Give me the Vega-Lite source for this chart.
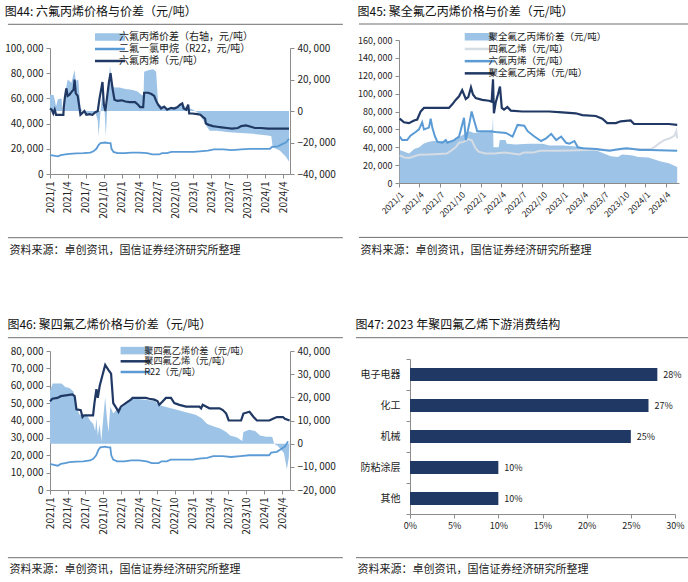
{
"$schema": "https://vega.github.io/schema/vega-lite/v6.json",
"background": "white",
"padding": {"top": 4, "left": 4, "right": 1, "bottom": 1},
"config": {
  "view": {"stroke": null},
  "font": "Noto Sans CJK SC",
  "axis": {"labelFont": "Noto Sans CJK SC", "labelFontSize": 10, "labelColor": "#222222", "domainColor": "#8c8c8c", "tickColor": "#8c8c8c", "grid": false, "tickSize": 4, "titleFont": "Noto Sans CJK SC", "titleFontSize": 11, "titleFontWeight": "normal", "titleColor": "#222222", "labelPadding": 3, "labelOverlap": false, "labelFlush": false},
  "legend": {"labelFont": "Noto Sans CJK SC", "labelFontSize": 10, "labelColor": "#222222"},
  "title": {"font": "Noto Sans CJK SC", "fontSize": 12, "fontWeight": "normal", "color": "#111111", "anchor": "start", "frame": "bounds"}
},
"datasets": {
  "r22": [
    {"d":"2021/01/01","v":15000},{"d":"2021/01/20","v":14500},{"d":"2021/02/10","v":14000},{"d":"2021/02/25","v":15000},{"d":"2021/03/20","v":15500},{"d":"2021/04/10","v":16000},{"d":"2021/05/15","v":16300},{"d":"2021/06/20","v":16500},{"d":"2021/07/25","v":17000},{"d":"2021/08/10","v":18000},{"d":"2021/08/25","v":20000},{"d":"2021/09/05","v":23000},{"d":"2021/09/15","v":24500},{"d":"2021/10/10","v":25000},{"d":"2021/10/25","v":24500},{"d":"2021/11/05","v":24500},{"d":"2021/11/10","v":20000},{"d":"2021/11/20","v":17500},{"d":"2021/12/10","v":16500},{"d":"2022/01/15","v":16500},{"d":"2022/02/20","v":17000},{"d":"2022/04/01","v":17000},{"d":"2022/05/10","v":16500},{"d":"2022/06/05","v":15500},{"d":"2022/07/10","v":15500},{"d":"2022/07/25","v":16500},{"d":"2022/08/20","v":16500},{"d":"2022/09/10","v":17500},{"d":"2022/11/01","v":17500},{"d":"2023/01/01","v":17500},{"d":"2023/02/01","v":18000},{"d":"2023/03/15","v":18500},{"d":"2023/04/15","v":19500},{"d":"2023/06/01","v":19500},{"d":"2023/07/15","v":19000},{"d":"2023/09/01","v":19500},{"d":"2023/10/15","v":20000},{"d":"2023/12/15","v":20000},{"d":"2024/01/25","v":20000},{"d":"2024/02/05","v":21500},{"d":"2024/03/05","v":22000},{"d":"2024/03/25","v":23500},{"d":"2024/04/15","v":25000},{"d":"2024/05/01","v":28000}
  ],
  "p1_hfp": [
    {"d":"2021/01/01","v":52000},{"d":"2021/01/10","v":51000},{"d":"2021/01/18","v":48000},{"d":"2021/01/25","v":51000},{"d":"2021/02/01","v":47000},{"d":"2021/02/20","v":47000},{"d":"2021/03/10","v":47000},{"d":"2021/03/12","v":53000},{"d":"2021/03/18","v":61000},{"d":"2021/03/25","v":68000},{"d":"2021/04/01","v":62000},{"d":"2021/04/10","v":63000},{"d":"2021/04/20","v":65000},{"d":"2021/05/01","v":67000},{"d":"2021/05/06","v":75000},{"d":"2021/05/12","v":64000},{"d":"2021/05/22","v":62000},{"d":"2021/06/05","v":47000},{"d":"2021/06/15","v":48500},{"d":"2021/06/25","v":50000},{"d":"2021/07/05","v":47000},{"d":"2021/07/20","v":47500},{"d":"2021/08/05","v":47000},{"d":"2021/08/20","v":49000},{"d":"2021/09/01","v":50000},{"d":"2021/09/10","v":60000},{"d":"2021/09/25","v":73000},{"d":"2021/10/02","v":55000},{"d":"2021/10/10","v":50000},{"d":"2021/10/20","v":63000},{"d":"2021/10/28","v":73000},{"d":"2021/11/05","v":80000},{"d":"2021/11/15","v":68000},{"d":"2021/11/25","v":59000},{"d":"2021/12/10","v":58000},{"d":"2022/01/01","v":58500},{"d":"2022/01/20","v":57500},{"d":"2022/02/10","v":57000},{"d":"2022/03/10","v":57000},{"d":"2022/03/25","v":55000},{"d":"2022/04/05","v":53000},{"d":"2022/04/20","v":53000},{"d":"2022/04/25","v":64500},{"d":"2022/05/15","v":64500},{"d":"2022/06/01","v":63500},{"d":"2022/06/15","v":62000},{"d":"2022/06/25","v":58000},{"d":"2022/07/05","v":55000},{"d":"2022/07/20","v":52000},{"d":"2022/08/05","v":53500},{"d":"2022/08/20","v":51000},{"d":"2022/09/10","v":52500},{"d":"2022/09/25","v":52000},{"d":"2022/10/10","v":53000},{"d":"2022/10/25","v":55000},{"d":"2022/11/05","v":56000},{"d":"2022/11/12","v":52000},{"d":"2022/11/25","v":51000},{"d":"2022/12/05","v":55000},{"d":"2022/12/10","v":48000},{"d":"2022/12/25","v":48000},{"d":"2023/01/20","v":47500},{"d":"2023/02/05","v":47000},{"d":"2023/02/20","v":45000},{"d":"2023/03/01","v":44000},{"d":"2023/03/05","v":40000},{"d":"2023/03/20","v":39000},{"d":"2023/04/10","v":38000},{"d":"2023/05/01","v":37500},{"d":"2023/05/25","v":37000},{"d":"2023/06/20","v":36500},{"d":"2023/07/15","v":36000},{"d":"2023/08/15","v":36500},{"d":"2023/09/01","v":38000},{"d":"2023/09/25","v":38500},{"d":"2023/10/20","v":37500},{"d":"2023/11/10","v":36500},{"d":"2023/12/10","v":36500},{"d":"2024/01/15","v":36000},{"d":"2024/03/01","v":36000},{"d":"2024/05/01","v":36000}
  ],
  "p1_spread": [
    {"d":"2021/01/01","v":10500},{"d":"2021/01/20","v":10000},{"d":"2021/02/01","v":3000},{"d":"2021/02/10","v":7500},{"d":"2021/03/01","v":8000},{"d":"2021/03/05","v":0},{"d":"2021/03/12","v":0},{"d":"2021/03/20","v":12000},{"d":"2021/04/01","v":20000},{"d":"2021/04/20","v":18000},{"d":"2021/05/06","v":26000},{"d":"2021/05/12","v":19000},{"d":"2021/05/25","v":20000},{"d":"2021/06/05","v":2000},{"d":"2021/06/20","v":-1000},{"d":"2021/07/20","v":-2000},{"d":"2021/08/20","v":-1000},{"d":"2021/09/01","v":-6000},{"d":"2021/09/05","v":-16000},{"d":"2021/09/15","v":0},{"d":"2021/09/25","v":12000},{"d":"2021/10/05","v":2000},{"d":"2021/10/12","v":-16000},{"d":"2021/10/20","v":5000},{"d":"2021/11/02","v":28600},{"d":"2021/11/15","v":16000},{"d":"2021/11/25","v":15000},{"d":"2021/12/20","v":15000},{"d":"2022/01/20","v":14000},{"d":"2022/02/20","v":13500},{"d":"2022/03/20","v":12500},{"d":"2022/04/15","v":10000},{"d":"2022/04/22","v":10000},{"d":"2022/04/25","v":25000},{"d":"2022/05/20","v":26000},{"d":"2022/06/10","v":26500},{"d":"2022/06/25","v":25000},{"d":"2022/07/05","v":5000},{"d":"2022/07/25","v":3000},{"d":"2022/08/20","v":2000},{"d":"2022/09/20","v":2500},{"d":"2022/10/20","v":3000},{"d":"2022/11/05","v":5000},{"d":"2022/11/25","v":2000},{"d":"2022/12/20","v":1500},{"d":"2023/01/10","v":0},{"d":"2023/02/01","v":-2000},{"d":"2023/02/20","v":-6000},{"d":"2023/03/10","v":-10000},{"d":"2023/03/25","v":-12500},{"d":"2023/05/01","v":-12500},{"d":"2023/07/01","v":-13500},{"d":"2023/09/01","v":-14000},{"d":"2023/11/01","v":-14500},{"d":"2024/01/15","v":-15500},{"d":"2024/02/01","v":-16000},{"d":"2024/02/08","v":-23000},{"d":"2024/03/15","v":-25000},{"d":"2024/04/15","v":-29000},{"d":"2024/05/01","v":-32000}
  ],
  "p2_fep": [
    {"d":"2021/01/04","v":72000},{"d":"2021/01/23","v":68000},{"d":"2021/02/14","v":67000},{"d":"2021/03/09","v":70000},{"d":"2021/03/23","v":71000},{"d":"2021/04/07","v":80000},{"d":"2021/04/22","v":84000},{"d":"2021/08/11","v":84000},{"d":"2021/08/26","v":88000},{"d":"2021/09/10","v":93000},{"d":"2021/09/25","v":97000},{"d":"2021/10/09","v":104000},{"d":"2021/10/25","v":94000},{"d":"2021/11/05","v":96000},{"d":"2021/11/17","v":107000},{"d":"2021/11/26","v":99000},{"d":"2021/12/08","v":95000},{"d":"2022/01/06","v":93000},{"d":"2022/02/05","v":92000},{"d":"2022/02/17","v":91000},{"d":"2022/02/23","v":116000},{"d":"2022/02/27","v":78000},{"d":"2022/03/07","v":90000},{"d":"2022/03/17","v":99000},{"d":"2022/03/26","v":108000},{"d":"2022/04/03","v":84000},{"d":"2022/04/13","v":82000},{"d":"2022/04/28","v":85000},{"d":"2022/05/13","v":81000},{"d":"2022/07/03","v":80000},{"d":"2022/10/30","v":80000},{"d":"2022/12/28","v":79000},{"d":"2023/02/26","v":78000},{"d":"2023/03/27","v":76000},{"d":"2023/05/26","v":75000},{"d":"2023/06/24","v":72000},{"d":"2023/07/16","v":67000},{"d":"2023/08/23","v":67000},{"d":"2023/09/14","v":69000},{"d":"2023/10/28","v":70000},{"d":"2023/11/12","v":66000},{"d":"2024/01/18","v":66000},{"d":"2024/04/15","v":66000},{"d":"2024/05/22","v":65000}
  ],
  "p2_hfp": [
    {"d":"2021/01/04","v":52000},{"d":"2021/01/15","v":48000},{"d":"2021/02/06","v":48000},{"d":"2021/02/21","v":53000},{"d":"2021/03/16","v":57000},{"d":"2021/03/31","v":60000},{"d":"2021/04/14","v":68000},{"d":"2021/04/22","v":60000},{"d":"2021/05/14","v":62000},{"d":"2021/05/22","v":72000},{"d":"2021/05/29","v":62000},{"d":"2021/06/10","v":52000},{"d":"2021/06/21","v":46000},{"d":"2021/07/13","v":45000},{"d":"2021/07/28","v":48000},{"d":"2021/08/04","v":45000},{"d":"2021/09/03","v":48000},{"d":"2021/09/25","v":52000},{"d":"2021/10/17","v":73000},{"d":"2021/10/25","v":48000},{"d":"2021/11/11","v":68000},{"d":"2021/11/20","v":80000},{"d":"2021/12/01","v":70000},{"d":"2021/12/15","v":58000},{"d":"2022/02/05","v":58000},{"d":"2022/03/07","v":57000},{"d":"2022/04/21","v":56000},{"d":"2022/05/21","v":52000},{"d":"2022/06/12","v":65000},{"d":"2022/07/12","v":64000},{"d":"2022/07/27","v":58000},{"d":"2022/08/26","v":52000},{"d":"2022/09/25","v":47000},{"d":"2022/10/17","v":50000},{"d":"2022/11/09","v":55000},{"d":"2022/12/01","v":48000},{"d":"2022/12/23","v":52000},{"d":"2023/01/14","v":45000},{"d":"2023/01/29","v":44000},{"d":"2023/02/20","v":47000},{"d":"2023/03/07","v":40000},{"d":"2023/03/29","v":39000},{"d":"2023/05/28","v":38000},{"d":"2023/06/27","v":37000},{"d":"2023/07/27","v":36000},{"d":"2023/09/10","v":38000},{"d":"2023/10/09","v":39000},{"d":"2023/11/08","v":38000},{"d":"2023/12/08","v":37000},{"d":"2024/01/21","v":37000},{"d":"2024/05/22","v":36000}
  ],
  "p2_tfe": [
    {"d":"2021/01/04","v":31000},{"d":"2021/01/25","v":28500},{"d":"2021/02/15","v":28000},{"d":"2021/03/10","v":30000},{"d":"2021/04/01","v":31500},{"d":"2021/05/15","v":32000},{"d":"2021/07/01","v":32500},{"d":"2021/08/01","v":33000},{"d":"2021/08/20","v":36000},{"d":"2021/09/10","v":40000},{"d":"2021/09/25","v":45000},{"d":"2021/10/15","v":46000},{"d":"2021/11/05","v":49000},{"d":"2021/11/20","v":48000},{"d":"2021/12/05","v":40000},{"d":"2021/12/20","v":35000},{"d":"2022/01/20","v":33000},{"d":"2022/03/01","v":33000},{"d":"2022/04/15","v":34000},{"d":"2022/05/20","v":33000},{"d":"2022/06/20","v":32000},{"d":"2022/07/10","v":34000},{"d":"2022/08/20","v":34000},{"d":"2022/09/20","v":36000},{"d":"2022/12/01","v":36000},{"d":"2023/02/01","v":36500},{"d":"2023/04/15","v":37000},{"d":"2023/06/15","v":37500},{"d":"2023/08/01","v":37000},{"d":"2023/10/01","v":38000},{"d":"2023/12/01","v":38000},{"d":"2024/01/25","v":38000},{"d":"2024/02/10","v":40000},{"d":"2024/03/01","v":44000},{"d":"2024/03/25","v":48000},{"d":"2024/04/20","v":50000},{"d":"2024/05/10","v":53000},{"d":"2024/05/18","v":58000},{"d":"2024/05/22","v":50000}
  ],
  "p2_spread": [
    {"d":"2021/01/04","v":37000},{"d":"2021/01/25","v":35000},{"d":"2021/02/15","v":33000},{"d":"2021/03/10","v":38000},{"d":"2021/04/01","v":40000},{"d":"2021/04/20","v":44000},{"d":"2021/05/10","v":46000},{"d":"2021/06/01","v":47000},{"d":"2021/08/15","v":47000},{"d":"2021/09/10","v":48000},{"d":"2021/10/01","v":52000},{"d":"2021/10/20","v":55000},{"d":"2021/11/10","v":58000},{"d":"2021/12/01","v":56000},{"d":"2022/01/01","v":57000},{"d":"2022/02/01","v":57000},{"d":"2022/02/20","v":60000},{"d":"2022/02/23","v":75000},{"d":"2022/02/25","v":40000},{"d":"2022/03/20","v":40000},{"d":"2022/03/25","v":48000},{"d":"2022/04/20","v":48000},{"d":"2022/04/25","v":44000},{"d":"2022/06/01","v":43000},{"d":"2022/08/01","v":44000},{"d":"2022/10/01","v":44000},{"d":"2022/11/01","v":42000},{"d":"2023/01/01","v":42000},{"d":"2023/02/15","v":41000},{"d":"2023/04/01","v":40000},{"d":"2023/05/01","v":38000},{"d":"2023/06/01","v":36000},{"d":"2023/07/01","v":33000},{"d":"2023/08/01","v":30000},{"d":"2023/09/01","v":29000},{"d":"2023/09/20","v":32000},{"d":"2023/11/01","v":31000},{"d":"2023/12/01","v":29000},{"d":"2024/01/15","v":28500},{"d":"2024/02/15","v":26000},{"d":"2024/03/10","v":24000},{"d":"2024/04/15","v":22000},{"d":"2024/05/22","v":18000}
  ],
  "p3_ptfe": [
    {"d":"2021/01/01","v":51000},{"d":"2021/01/13","v":52500},{"d":"2021/02/08","v":53000},{"d":"2021/02/25","v":54000},{"d":"2021/04/25","v":55000},{"d":"2021/05/07","v":54000},{"d":"2021/05/16","v":46500},{"d":"2021/06/07","v":46000},{"d":"2021/06/16","v":42000},{"d":"2021/06/24","v":43000},{"d":"2021/07/20","v":43000},{"d":"2021/08/09","v":43000},{"d":"2021/08/16","v":50000},{"d":"2021/08/26","v":58000},{"d":"2021/09/02","v":53000},{"d":"2021/09/12","v":60000},{"d":"2021/09/26","v":66000},{"d":"2021/10/10","v":72000},{"d":"2021/10/27","v":69000},{"d":"2021/11/09","v":67000},{"d":"2021/11/20","v":50000},{"d":"2021/12/07","v":47000},{"d":"2021/12/17","v":45000},{"d":"2021/12/29","v":48000},{"d":"2022/01/23","v":50000},{"d":"2022/02/18","v":52000},{"d":"2022/02/27","v":53000},{"d":"2022/05/06","v":53000},{"d":"2022/05/23","v":52500},{"d":"2022/06/18","v":52000},{"d":"2022/07/05","v":51000},{"d":"2022/07/13","v":49000},{"d":"2022/07/30","v":51000},{"d":"2022/08/16","v":53000},{"d":"2022/09/11","v":53000},{"d":"2022/09/28","v":50000},{"d":"2022/10/24","v":49000},{"d":"2022/11/27","v":48000},{"d":"2023/02/03","v":48000},{"d":"2023/02/12","v":47000},{"d":"2023/02/20","v":49000},{"d":"2023/03/09","v":48000},{"d":"2023/03/26","v":47000},{"d":"2023/05/17","v":47000},{"d":"2023/06/03","v":46000},{"d":"2023/06/20","v":44000},{"d":"2023/07/03","v":40000},{"d":"2023/09/04","v":40000},{"d":"2023/09/16","v":44000},{"d":"2023/10/17","v":45000},{"d":"2023/11/07","v":42000},{"d":"2023/11/24","v":40000},{"d":"2024/01/27","v":40000},{"d":"2024/02/14","v":41000},{"d":"2024/03/05","v":42000},{"d":"2024/04/05","v":42000},{"d":"2024/04/15","v":41000},{"d":"2024/05/09","v":40000}
  ],
  "p3_spread": [
    {"d":"2021/01/01","v":23000},{"d":"2021/01/15","v":26000},{"d":"2021/03/01","v":26000},{"d":"2021/03/20","v":24500},{"d":"2021/04/10","v":24000},{"d":"2021/05/01","v":22500},{"d":"2021/05/15","v":16000},{"d":"2021/06/01","v":12500},{"d":"2021/07/10","v":12000},{"d":"2021/07/25","v":10000},{"d":"2021/08/10","v":8500},{"d":"2021/08/20","v":5500},{"d":"2021/08/26","v":11000},{"d":"2021/09/02","v":3500},{"d":"2021/09/12","v":8500},{"d":"2021/09/20","v":1000},{"d":"2021/10/01","v":12000},{"d":"2021/10/10","v":20000},{"d":"2021/10/20","v":10000},{"d":"2021/10/27","v":5000},{"d":"2021/11/05","v":16000},{"d":"2021/11/20","v":13000},{"d":"2021/12/10","v":15000},{"d":"2022/01/10","v":16000},{"d":"2022/02/01","v":18500},{"d":"2022/03/01","v":19500},{"d":"2022/05/01","v":19000},{"d":"2022/06/15","v":18500},{"d":"2022/07/20","v":16500},{"d":"2022/09/01","v":15500},{"d":"2022/10/15","v":14500},{"d":"2022/12/01","v":13500},{"d":"2023/01/15","v":12500},{"d":"2023/02/15","v":11000},{"d":"2023/03/15","v":8500},{"d":"2023/04/15","v":7500},{"d":"2023/05/20","v":6500},{"d":"2023/06/20","v":5000},{"d":"2023/07/10","v":3500},{"d":"2023/08/15","v":2700},{"d":"2023/09/10","v":1200},{"d":"2023/09/16","v":5000},{"d":"2023/10/15","v":6000},{"d":"2023/11/15","v":5500},{"d":"2023/12/10","v":3500},{"d":"2024/01/10","v":3000},{"d":"2024/02/10","v":3000},{"d":"2024/02/20","v":0},{"d":"2024/03/10","v":-1000},{"d":"2024/03/25","v":-2500},{"d":"2024/04/10","v":-4000},{"d":"2024/04/25","v":-11000},{"d":"2024/05/05","v":-6000},{"d":"2024/05/09","v":2000}
  ],
  "p4": [
    {"c":"电子电器","v":0.28},{"c":"化工","v":0.27},{"c":"机械","v":0.25},{"c":"防粘涂层","v":0.10},{"c":"其他","v":0.10}
  ]
},
"spacing": 63,
"resolve": {"scale": {"color": "independent"}, "legend": {"color": "independent"}},
"vconcat": [
{
  "spacing": 13,
  "resolve": {"scale": {"color": "independent"}, "legend": {"color": "independent"}},
  "hconcat": [
  {
    "spacing": 0,
    "resolve": {"scale": {"color": "independent"}, "legend": {"color": "independent"}},
    "vconcat": [
      {"width": 10, "height": 1, "data": {"values": [{}]}, "mark": {"type": "rule", "opacity": 0}, "encoding": {"y": {"datum": 0, "type": "quantitative", "scale": {"domain": [0, 1]}, "axis": null}}},
      {
        "width": 240, "height": 126,
        "title": {"text": "图44: 六氟丙烯价格与价差（元/吨）", "offset": 5},
        "resolve": {"scale": {"y": "independent"}},
        "layer": [
          {
            "data": {"name": "p1_spread"},
            "mark": {"type": "area"},
            "encoding": {
              "x": {"field": "d", "type": "temporal", "scale": {"domain": [{"year":2021,"month":1,"date":1},{"year":2024,"month":5,"date":6}], "nice": false},
                    "axis": {"values": [{"year":2021,"month":1,"date":1},{"year":2021,"month":4,"date":1},{"year":2021,"month":7,"date":1},{"year":2021,"month":10,"date":1},{"year":2022,"month":1,"date":1},{"year":2022,"month":4,"date":1},{"year":2022,"month":7,"date":1},{"year":2022,"month":10,"date":1},{"year":2023,"month":1,"date":1},{"year":2023,"month":4,"date":1},{"year":2023,"month":7,"date":1},{"year":2023,"month":10,"date":1},{"year":2024,"month":1,"date":1},{"year":2024,"month":4,"date":1}],
                             "tickCount": 30, "format": "%Y/%-m", "labelAngle": -90, "labelOverlap": false, "labelFlush": false, "title": "资料来源：卓创资讯，国信证券经济研究所整理", "titleX": -41, "titleY": 76, "titleAlign": "left", "titleBaseline": "middle"}},
              "y": {"field": "v", "type": "quantitative", "scale": {"domain": [-40000, 40000], "nice": false},
                    "axis": {"orient": "right", "values": [-40000,-20000,0,20000,40000], "tickCount": 30, "labelOverlap": false, "labelFlush": false, "title": null, "labelExpr": "replace(format(datum.value, ','), ',', ', ')"}},
              "color": {"datum": "六氟丙烯价差（右轴，元/吨）", "type": "nominal",
                        "scale": {"domain": ["六氟丙烯价差（右轴，元/吨）", "二氟一氯甲烷（R22，元/吨）", "六氟丙烯（元/吨）"], "range": ["#9DC3E6", "#5B9BD5", "#203864"]},
                        "legend": {"title": null, "orient": "none", "legendX": 55, "legendY": -16, "symbolSize": 900, "rowPadding": 2, "labelOffset": 4, "labelFontSize": 10,
                                   "symbolType": {"expr": "datum.value == '六氟丙烯价差（右轴，元/吨）' ? 'M-1,-0.25H1V0.25H-1Z' : 'stroke'"},
                                   "symbolStrokeWidth": {"expr": "datum.value == '六氟丙烯价差（右轴，元/吨）' ? 0 : 2.5"}}}
            }
          },
          {
            "layer": [
              {
                "data": {"name": "r22"},
                "mark": {"type": "line", "strokeWidth": 1.8},
                "encoding": {
                  "x": {"field": "d", "type": "temporal", "scale": {"domain": [{"year":2021,"month":1,"date":1},{"year":2024,"month":5,"date":6}], "nice": false}},
                  "y": {"field": "v", "type": "quantitative", "scale": {"domain": [0, 100000], "nice": false},
                        "axis": {"orient": "left", "values": [0,20000,40000,60000,80000,100000], "tickCount": 30, "labelOverlap": false, "labelFlush": false, "title": null, "labelExpr": "replace(format(datum.value, ','), ',', ', ')"}},
                  "color": {"datum": "二氟一氯甲烷（R22，元/吨）", "type": "nominal"}
                }
              },
              {
                "data": {"name": "p1_hfp"},
                "mark": {"type": "line", "strokeWidth": 2.2},
                "encoding": {
                  "x": {"field": "d", "type": "temporal", "scale": {"domain": [{"year":2021,"month":1,"date":1},{"year":2024,"month":5,"date":6}], "nice": false}},
                  "y": {"field": "v", "type": "quantitative", "scale": {"domain": [0, 100000], "nice": false}},
                  "color": {"datum": "六氟丙烯（元/吨）", "type": "nominal"}
                }
              },
              {
                "data": {"values": [{"p": "header"}, {"p": "footer"}]},
                "transform": [{"calculate": "datum.p == 'header' ? 118810 : -50556", "as": "yv"}],
                "mark": {"type": "rule", "color": "#6f6f6f", "strokeWidth": 1},
                "encoding": {
                  "x": {"datum": {"year":2020,"month":6,"date":1}, "type": "temporal", "scale": {"domain": [{"year":2021,"month":1,"date":1},{"year":2024,"month":5,"date":6}], "nice": false}},
                  "x2": {"datum": {"year":2025,"month":1,"date":30}},
                  "y": {"field": "yv", "type": "quantitative", "scale": {"domain": [0, 100000], "nice": false}}
                }
              }
            ]
          }
        ]
      }
    ]
  },
  {
    "spacing": 0,
    "resolve": {"scale": {"color": "independent"}, "legend": {"color": "independent"}},
    "vconcat": [
      {"width": 10, "height": 1, "data": {"values": [{}]}, "mark": {"type": "rule", "opacity": 0}, "encoding": {"y": {"datum": 0, "type": "quantitative", "scale": {"domain": [0, 1]}, "axis": null}}},
      {
        "width": 280, "height": 143,
        "title": {"text": "图45: 聚全氟乙丙烯价格与价差（元/吨）", "offset": 5},
        "layer": [
          {
            "data": {"name": "p2_spread"},
            "mark": {"type": "area"},
            "encoding": {
              "x": {"field": "d", "type": "temporal", "scale": {"domain": [{"year":2021,"month":1,"date":1},{"year":2024,"month":5,"date":30}], "nice": false},
                    "axis": {"values": [{"year":2021,"month":1,"date":1},{"year":2021,"month":4,"date":1},{"year":2021,"month":7,"date":1},{"year":2021,"month":10,"date":1},{"year":2022,"month":1,"date":1},{"year":2022,"month":4,"date":1},{"year":2022,"month":7,"date":1},{"year":2022,"month":10,"date":1},{"year":2023,"month":1,"date":1},{"year":2023,"month":4,"date":1},{"year":2023,"month":7,"date":1},{"year":2023,"month":10,"date":1},{"year":2024,"month":1,"date":1},{"year":2024,"month":4,"date":1}],
                             "tickCount": 30, "format": "%Y/%-m", "labelAngle": -45, "labelFontSize": 8.5, "labelOverlap": false, "labelFlush": false, "title": "资料来源：卓创资讯，国信证券经济研究所整理", "titleX": -39, "titleY": 67, "titleAlign": "left", "titleBaseline": "middle"}},
              "y": {"field": "v", "type": "quantitative", "scale": {"domain": [0, 160000], "nice": false},
                    "axis": {"values": [0,20000,40000,60000,80000,100000,120000,140000,160000], "tickCount": 30, "labelOverlap": false, "labelFlush": false, "title": null, "labelFontSize": 9, "labelExpr": "replace(format(datum.value, ','), ',', ', ')"}},
              "color": {"datum": "聚全氟乙丙烯价差（元/吨）", "type": "nominal",
                        "scale": {"domain": ["聚全氟乙丙烯价差（元/吨）", "四氟乙烯（元/吨）", "六氟丙烯（元/吨）", "聚全氟乙丙烯（元/吨）"], "range": ["#9DC3E6", "#D6DCE4", "#5B9BD5", "#203864"]},
                        "legend": {"title": null, "orient": "none", "legendX": 76, "legendY": -8, "symbolSize": 900, "rowPadding": 1.2, "labelOffset": 4, "labelFontSize": 9.5,
                                   "symbolType": {"expr": "datum.value == '聚全氟乙丙烯价差（元/吨）' ? 'M-1,-0.25H1V0.25H-1Z' : 'stroke'"},
                                   "symbolStrokeWidth": {"expr": "datum.value == '聚全氟乙丙烯价差（元/吨）' ? 0 : 2.5"}}}
            }
          },
          {
            "data": {"name": "p2_tfe"},
            "mark": {"type": "line", "strokeWidth": 2},
            "encoding": {
              "x": {"field": "d", "type": "temporal"},
              "y": {"field": "v", "type": "quantitative"},
              "color": {"datum": "四氟乙烯（元/吨）", "type": "nominal"}
            }
          },
          {
            "data": {"name": "p2_hfp"},
            "mark": {"type": "line", "strokeWidth": 2},
            "encoding": {
              "x": {"field": "d", "type": "temporal"},
              "y": {"field": "v", "type": "quantitative"},
              "color": {"datum": "六氟丙烯（元/吨）", "type": "nominal"}
            }
          },
          {
            "data": {"name": "p2_fep"},
            "mark": {"type": "line", "strokeWidth": 2.2},
            "encoding": {
              "x": {"field": "d", "type": "temporal"},
              "y": {"field": "v", "type": "quantitative"},
              "color": {"datum": "聚全氟乙丙烯（元/吨）", "type": "nominal"}
            }
          },
          {
            "data": {"values": [{"p": "header"}, {"p": "footer"}]},
            "transform": [{"calculate": "datum.p == 'header' ? 177902 : -60868", "as": "yv"}],
            "mark": {"type": "rule", "color": "#6f6f6f", "strokeWidth": 1},
            "encoding": {
              "x": {"datum": {"year":2020,"month":7,"date":7}, "type": "temporal"},
              "x2": {"datum": {"year":2024,"month":7,"date":27}},
              "y": {"field": "yv", "type": "quantitative"}
            }
          }
        ]
      }
    ]
  }
  ]
},
{
  "spacing": 11,
  "resolve": {"scale": {"color": "independent"}, "legend": {"color": "independent"}},
  "hconcat": [
  {
    "spacing": 0,
    "resolve": {"scale": {"color": "independent"}, "legend": {"color": "independent"}},
    "vconcat": [
      {"width": 10, "height": 1, "data": {"values": [{}]}, "mark": {"type": "rule", "opacity": 0}, "encoding": {"y": {"datum": 0, "type": "quantitative", "scale": {"domain": [0, 1]}, "axis": null}}},
      {
        "width": 240, "height": 139,
        "title": {"text": "图46: 聚四氟乙烯价格与价差（元/吨）", "offset": 5},
        "resolve": {"scale": {"y": "independent"}},
        "layer": [
          {
            "data": {"name": "p3_spread"},
            "mark": {"type": "area"},
            "encoding": {
              "x": {"field": "d", "type": "temporal", "scale": {"domain": [{"year":2021,"month":1,"date":1},{"year":2024,"month":5,"date":11}], "nice": false},
                    "axis": {"values": [{"year":2021,"month":1,"date":1},{"year":2021,"month":4,"date":1},{"year":2021,"month":7,"date":1},{"year":2021,"month":10,"date":1},{"year":2022,"month":1,"date":1},{"year":2022,"month":4,"date":1},{"year":2022,"month":7,"date":1},{"year":2022,"month":10,"date":1},{"year":2023,"month":1,"date":1},{"year":2023,"month":4,"date":1},{"year":2023,"month":7,"date":1},{"year":2023,"month":10,"date":1},{"year":2024,"month":1,"date":1},{"year":2024,"month":4,"date":1}],
                             "tickCount": 30, "format": "%Y/%-m", "labelAngle": -90, "labelOverlap": false, "labelFlush": false, "title": "资料来源：卓创资讯，国信证券经济研究所整理", "titleX": -41, "titleY": 79, "titleAlign": "left", "titleBaseline": "middle"}},
              "y": {"field": "v", "type": "quantitative", "scale": {"domain": [-20000, 40000], "nice": false},
                    "axis": {"orient": "right", "values": [-20000,-10000,0,10000,20000,30000,40000], "tickCount": 30, "labelOverlap": false, "labelFlush": false, "title": null, "labelExpr": "replace(format(datum.value, ','), ',', ', ')"}},
              "color": {"datum": "聚四氟乙烯价差（元/吨）", "type": "nominal",
                        "scale": {"domain": ["聚四氟乙烯价差（元/吨）", "聚四氟乙烯（元/吨）", "R22（元/吨）"], "range": ["#9DC3E6", "#203864", "#5B9BD5"]},
                        "legend": {"title": null, "orient": "none", "legendX": 81, "legendY": -5, "symbolSize": 900, "rowPadding": -0.3, "labelOffset": 4, "labelFontSize": 9.2,
                                   "symbolType": {"expr": "datum.value == '聚四氟乙烯价差（元/吨）' ? 'M-1,-0.25H1V0.25H-1Z' : 'stroke'"},
                                   "symbolStrokeWidth": {"expr": "datum.value == '聚四氟乙烯价差（元/吨）' ? 0 : 2.5"}}}
            }
          },
          {
            "layer": [
              {
                "data": {"name": "r22"},
                "mark": {"type": "line", "strokeWidth": 1.8},
                "encoding": {
                  "x": {"field": "d", "type": "temporal", "scale": {"domain": [{"year":2021,"month":1,"date":1},{"year":2024,"month":5,"date":11}], "nice": false}},
                  "y": {"field": "v", "type": "quantitative", "scale": {"domain": [0, 80000], "nice": false},
                        "axis": {"orient": "left", "values": [0,10000,20000,30000,40000,50000,60000,70000,80000], "tickCount": 30, "labelOverlap": false, "labelFlush": false, "title": null, "labelExpr": "replace(format(datum.value, ','), ',', ', ')"}},
                  "color": {"datum": "R22（元/吨）", "type": "nominal"}
                }
              },
              {
                "data": {"name": "p3_ptfe"},
                "mark": {"type": "line", "strokeWidth": 2.2},
                "encoding": {
                  "x": {"field": "d", "type": "temporal", "scale": {"domain": [{"year":2021,"month":1,"date":1},{"year":2024,"month":5,"date":11}], "nice": false}},
                  "y": {"field": "v", "type": "quantitative", "scale": {"domain": [0, 80000], "nice": false}},
                  "color": {"datum": "聚四氟乙烯（元/吨）", "type": "nominal"}
                }
              },
              {
                "data": {"values": [{"p": "header"}, {"p": "footer"}]},
                "transform": [{"calculate": "datum.p == 'header' ? 87654 : -38960", "as": "yv"}],
                "mark": {"type": "rule", "color": "#6f6f6f", "strokeWidth": 1},
                "encoding": {
                  "x": {"datum": {"year":2020,"month":5,"date":31}, "type": "temporal", "scale": {"domain": [{"year":2021,"month":1,"date":1},{"year":2024,"month":5,"date":11}], "nice": false}},
                  "x2": {"datum": {"year":2025,"month":2,"date":5}},
                  "y": {"field": "yv", "type": "quantitative", "scale": {"domain": [0, 80000], "nice": false}}
                }
              }
            ]
          }
        ]
      }
    ]
  },
  {
    "spacing": 0,
    "resolve": {"scale": {"color": "independent"}, "legend": {"color": "independent"}},
    "vconcat": [
      {"width": 10, "height": 1, "data": {"values": [{}]}, "mark": {"type": "rule", "opacity": 0}, "encoding": {"y": {"datum": 0, "type": "quantitative", "scale": {"domain": [0, 1]}, "axis": null}}},
      {
        "width": 265, "height": 155,
        "title": {"text": "图47: 2023 年聚四氟乙烯下游消费结构", "offset": 5},
        "resolve": {"scale": {"y": "independent"}},
        "layer": [
          {
            "layer": [
              {
                "data": {"name": "p4"},
                "mark": {"type": "bar", "height": {"band": 0.42}, "color": "#203864"},
                "encoding": {
                  "x": {"field": "v", "type": "quantitative", "scale": {"domain": [0, 0.3], "nice": false},
                        "axis": {"values": [0,0.05,0.1,0.15,0.2,0.25,0.3], "tickCount": 30, "format": ".0%", "labelFontSize": 9, "labelOverlap": false, "labelFlush": false, "title": "资料来源：卓创资讯，国信证券经济研究所整理", "titleX": -53, "titleY": 55, "titleAlign": "left", "titleBaseline": "middle"}},
                  "y": {"field": "c", "type": "nominal", "sort": null, "scale": {"paddingInner": 0, "paddingOuter": 0},
                        "axis": {"title": null, "tickBand": "extent", "labelPadding": 6, "labelFontSize": 10}}
                }
              },
              {
                "data": {"name": "p4"},
                "mark": {"type": "text", "align": "left", "dx": 6, "fontSize": 9, "color": "#222222"},
                "encoding": {
                  "x": {"field": "v", "type": "quantitative"},
                  "y": {"field": "c", "type": "nominal", "sort": null},
                  "text": {"field": "v", "type": "quantitative", "format": ".0%"}
                }
              }
            ]
          },
          {
            "data": {"values": [{"p": "header"}, {"p": "footer"}]},
            "transform": [{"calculate": "datum.p == 'header' ? 1.1374 : -0.2819", "as": "yv"}],
            "mark": {"type": "rule", "color": "#6f6f6f", "strokeWidth": 1},
            "encoding": {
              "x": {"datum": -0.0611, "type": "quantitative"},
              "x2": {"datum": 0.3158},
              "y": {"field": "yv", "type": "quantitative", "scale": {"domain": [0, 1], "nice": false}, "axis": null}
            }
          }
        ]
      }
    ]
  }
  ]
}
]
}
